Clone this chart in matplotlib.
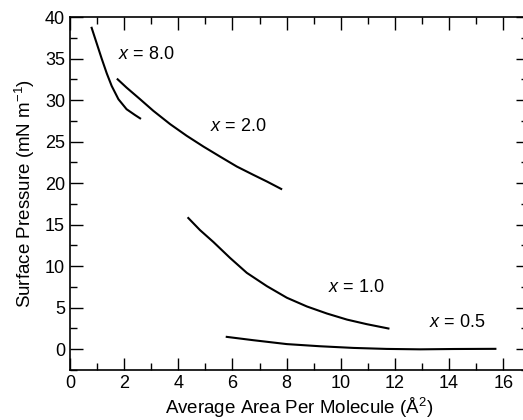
import matplotlib.pyplot as plt
from matplotlib.ticker import MultipleLocator

plt.rcParams['font.family'] = ['Liberation Sans', 'DejaVu Sans']
plt.rcParams['mathtext.fontset'] = 'custom'
plt.rcParams['mathtext.rm'] = 'Liberation Sans'
plt.rcParams['mathtext.it'] = 'Liberation Sans:italic'

# isotherms: area (A^2) and surface pressure (mN/m)
area_8 = [0.80, 0.99, 1.17, 1.36, 1.54, 1.79, 2.09, 2.40, 2.59]
pres_8 = [38.7, 36.8, 35.0, 33.2, 31.7, 30.1, 28.9, 28.2, 27.8]

area_2 = [1.76, 2.09, 2.59, 3.08, 3.70, 4.31, 4.93, 5.54, 6.16, 6.77, 7.27, 7.80]
pres_2 = [32.5, 31.5, 30.1, 28.7, 27.1, 25.7, 24.4, 23.2, 22.0, 21.0, 20.2, 19.3]

area_1 = [4.37, 4.80, 5.30, 5.91, 6.53, 7.27, 8.01, 8.75, 9.49, 10.23, 10.96, 11.76]
pres_1 = [15.8, 14.35, 12.9, 11.0, 9.2, 7.6, 6.2, 5.15, 4.30, 3.57, 3.02, 2.50]

area_05 = [5.79, 6.77, 8.01, 9.24, 10.47, 11.70, 12.93, 14.17, 15.71]
pres_05 = [1.49, 1.09, 0.62, 0.36, 0.16, 0.04, -0.01, 0.03, 0.05]

labels = ['$x$ = 8.0', '$x$ = 2.0', '$x$ = 1.0', '$x$ = 0.5']
label_pos = [(2.83, 35.5), (6.22, 26.8), (10.59, 7.45), (14.29, 3.18)]

fig = plt.figure(figsize=(5.23, 4.20), dpi=100)
ax = fig.add_axes([0.1338, 0.119, 0.875, 0.8405])

for a, p in [(area_8, pres_8), (area_2, pres_2), (area_1, pres_1), (area_05, pres_05)]:
    ax.plot(a, p, color='black', lw=1.5, solid_joinstyle='round')

for txt, (tx, ty) in zip(labels, label_pos):
    ax.text(tx, ty, txt, fontsize=13, ha='center', va='center')

ax.set_xlim(0, 16.9)
ax.set_ylim(-2.5, 40)
ax.xaxis.set_major_locator(MultipleLocator(2))
ax.xaxis.set_minor_locator(MultipleLocator(1))
ax.yaxis.set_major_locator(MultipleLocator(5))
ax.yaxis.set_minor_locator(MultipleLocator(2.5))
ax.tick_params(which='both', direction='in', top=True, right=True, labelsize=13, width=1)
ax.tick_params(which='major', length=9)
ax.tick_params(which='minor', length=5)
for s in ax.spines.values():
    s.set_linewidth(1.2)

ax.set_xlabel('Average Area Per Molecule (Å$^\\mathrm{2}$)', fontsize=13.5, labelpad=3)
ax.set_ylabel('Surface Pressure (mN m$^\\mathrm{-1}$)', fontsize=13.5, labelpad=6)

fig.savefig('out.png', dpi=100)
